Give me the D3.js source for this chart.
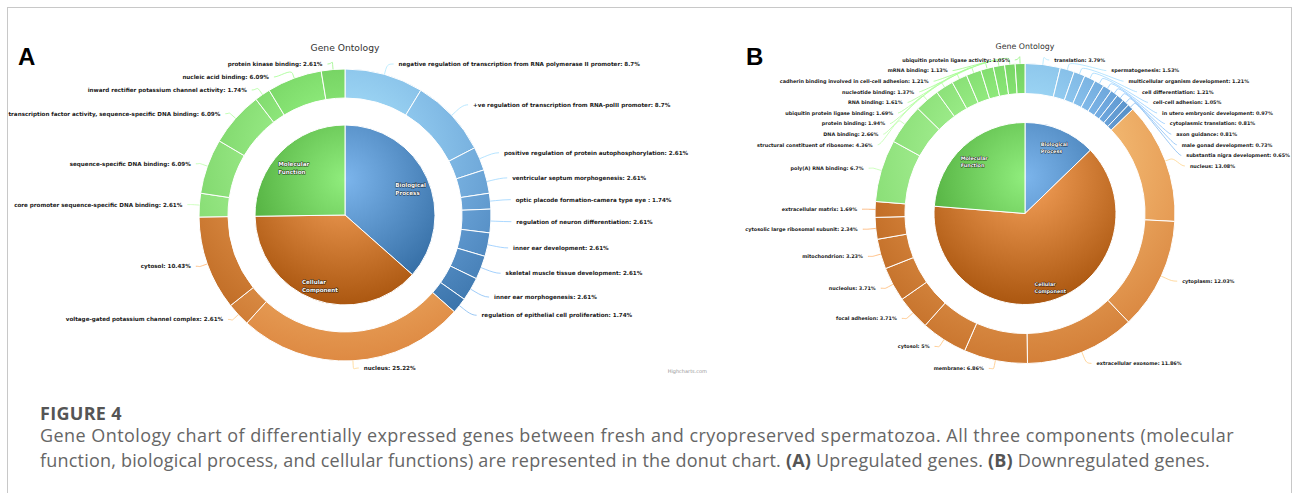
<!DOCTYPE html>
<html>
<head>
<meta charset="utf-8">
<title>Gene Ontology</title>
<script src="https://d3js.org/d3.v7.min.js"></script>
<style>
	html, body { margin: 0; padding: 0; background: #fff; }
	svg { display: block; }
</style>
</head>
<body>
<script>
'use strict';

// ---- data ---------------------------------------------------------------

var categories = ['Biological Process', 'Cellular Component', 'Molecular Function'];

// panel A: upregulated genes
var upProcessTerms = [
	'negative regulation of transcription from RNA polymerase II promoter',
	'+ve regulation of transcription from RNA-polII promoter',
	'positive regulation of protein autophosphorylation',
	'ventricular septum morphogenesis',
	'optic placode formation-camera type eye ',
	'regulation of neuron differentiation',
	'inner ear development',
	'skeletal muscle tissue development',
	'inner ear morphogenesis',
	'regulation of epithelial cell proliferation'
];
var upProcessValues = [8.7, 8.7, 2.61, 2.61, 1.74, 2.61, 2.61, 2.61, 2.61, 1.74];

var upComponentTerms = ['nucleus', 'voltage-gated potassium channel complex', 'cytosol'];
var upComponentValues = [25.22, 2.61, 10.43];

var upFunctionTerms = [
	'core promoter sequence-specific DNA binding',
	'sequence-specific DNA binding',
	'transcription factor activity, sequence-specific DNA binding',
	'inward rectifier potassium channel activity',
	'nucleic acid binding',
	'protein kinase binding'
];
var upFunctionValues = [2.61, 6.09, 6.09, 1.74, 6.09, 2.61];

// panel B: downregulated genes
var downProcessTerms = [
	'translation',
	'spermatogenesis',
	'multicellular organism development',
	'cell differentiation',
	'cell-cell adhesion',
	'in utero embryonic development',
	'cytoplasmic translation',
	'axon guidance',
	'male gonad development',
	'substantia nigra development'
];
var downProcessValues = [3.79, 1.53, 1.21, 1.21, 1.05, 0.97, 0.81, 0.81, 0.73, 0.65];

var downComponentTerms = [
	'nucleus',
	'cytoplasm',
	'extracellular exosome',
	'membrane',
	'cytosol',
	'focal adhesion',
	'nucleolus',
	'mitochondrion',
	'cytosolic large ribosomal subunit',
	'extracellular matrix'
];
var downComponentValues = [13.08, 12.03, 11.86, 6.86, 5, 3.71, 3.71, 3.23, 2.34, 1.69];

var downFunctionTerms = [
	'poly(A) RNA binding',
	'structural constituent of ribosome',
	'DNA binding',
	'protein binding',
	'ubiquitin protein ligase binding',
	'RNA binding',
	'nucleotide binding',
	'cadherin binding involved in cell-cell adhesion',
	'mRNA binding',
	'ubiquitin protein ligase activity'
];
var downFunctionValues = [6.7, 4.36, 2.66, 1.94, 1.69, 1.61, 1.37, 1.21, 1.13, 1.05];

var chartTitle = 'Gene Ontology';
var captionHead = 'FIGURE 4';
var captionLine1 = 'Gene Ontology chart of differentially expressed genes between fresh and cryopreserved spermatozoa. All three components (molecular';
var captionLine2 = [
	['function, biological process, and cellular functions) are represented in the donut chart. ', false],
	['(A)', true], [' Upregulated genes. ', false],
	['(B)', true], [' Downregulated genes.', false]
];

// ---- styles / layout ----------------------------------------------------

var catColors = ['#7cb5ec', '#f7a35c', '#90ed7d'];
var labelFont = '"DejaVu Sans", Verdana, sans-serif';

var width = 1293, height = 493;

var svg = d3.select('body').append('svg')
	.attr('width', width)
	.attr('height', height);
var defs = svg.append('defs');

svg.append('rect')
	.attr('width', width).attr('height', height)
	.attr('fill', '#fff');

// figure frame
svg.append('rect')
	.attr('x', 7.5).attr('y', 7.5)
	.attr('width', 1284).attr('height', 520)
	.attr('fill', 'none')
	.attr('stroke', '#c8c8c8');

function clamp(v) { return Math.max(0, Math.min(255, v)); }

// highcharts-like brighten (adds a fraction of 255 to each channel)
function brighten(hex, amount) {
	var c = d3.rgb(hex);
	var k = Math.trunc(amount * 255);
	return d3.rgb(clamp(c.r + k), clamp(c.g + k), clamp(c.b + k)).formatHex();
}

function addGradient(id, base, b, diameter) {
	var grad = defs.append('radialGradient')
		.attr('id', id)
		.attr('gradientUnits', 'userSpaceOnUse')
		.attr('cx', 0).attr('cy', -0.2 * diameter)
		.attr('fx', 0).attr('fy', -0.2 * diameter)
		.attr('r', 0.7 * diameter);
	grad.append('stop').attr('offset', 0).attr('stop-color', brighten(base, b));
	grad.append('stop').attr('offset', 1).attr('stop-color', brighten(brighten(base, -0.3), b));
	return 'url(#' + id + ')';
}

// push overlapping labels apart, keeping groups centred on their targets
function distribute(items, top, bottom, gap) {
	items.sort(function(a, b) { return a.ny - b.ny; });
	var groups = items.map(function(d) { return { items: [d] }; });
	var place = function(gr) {
		var n = gr.items.length;
		var pos = d3.mean(gr.items, function(d) { return d.ny; }) - (n - 1) * gap / 2;
		gr.pos = Math.max(top, Math.min(pos, bottom - (n - 1) * gap));
	};
	groups.forEach(place);
	var merged = true;
	while (merged) {
		merged = false;
		for (var i = 0; i < groups.length - 1; i++) {
			var a = groups[i], b = groups[i + 1];
			if (a.pos + a.items.length * gap > b.pos + 1e-6) {
				a.items = a.items.concat(b.items);
				groups.splice(i + 1, 1);
				place(a);
				merged = true;
				break;
			}
		}
	}
	groups.forEach(function(gr) {
		gr.items.forEach(function(d, k) { d.y = gr.pos + k * gap; });
	});
}

function fmt(v) { return String(v) + '%'; }

/**
 * Draws one donut panel: category pie inside, sub-term ring outside.
 */
var drawPanel = function(cfg, groups) {
	// panel letter and title
	svg.append('text')
		.attr('x', cfg.letterX).attr('y', 65)
		.attr('font-family', '"Liberation Sans", Arial, sans-serif')
		.attr('font-weight', 'bold')
		.attr('font-size', 24)
		.attr('fill', '#000')
		.text(cfg.letter);

	svg.append('text')
		.attr('x', cfg.cx).attr('y', cfg.titleY)
		.attr('text-anchor', 'middle')
		.attr('font-family', labelFont)
		.attr('font-size', cfg.titleSize)
		.attr('fill', '#333')
		.text(chartTitle);

	var g = svg.append('g')
		.attr('transform', 'translate(' + cfg.cx + ',' + cfg.cy + ')');

	var totals = groups.map(function(d) { return d3.sum(d.values); });
	var inner = d3.pie().sort(null)(totals);

	var subs = [];
	groups.forEach(function(grp, i) {
		grp.values.forEach(function(v, j) {
			subs.push({
				name: grp.terms[j],
				value: v,
				group: i,
				bright: 0.2 - (j / grp.values.length) / 5
			});
		});
	});
	var outer = d3.pie().sort(null).value(function(d) { return d.value; })(subs);

	var pieArc = d3.arc().innerRadius(0).outerRadius(cfg.pieR);
	var ringArc = d3.arc().innerRadius(cfg.ringIn).outerRadius(cfg.ringOut);

	g.selectAll('path.inner')
		.data(inner)
		.enter().append('path')
		.attr('class', 'inner')
		.attr('d', pieArc)
		.attr('fill', function(d, i) {
			return addGradient(cfg.letter + '-in-' + i, catColors[i], 0, 2 * cfg.pieR);
		})
		.attr('stroke', '#fff')
		.attr('stroke-width', 1)
		.attr('stroke-linejoin', 'round');

	g.selectAll('path.outer')
		.data(outer)
		.enter().append('path')
		.attr('class', 'outer')
		.attr('d', ringArc)
		.attr('fill', function(d, i) {
			return addGradient(cfg.letter + '-out-' + i, catColors[d.data.group], d.data.bright, 2 * cfg.ringOut);
		})
		.attr('stroke', '#fff')
		.attr('stroke-width', 1)
		.attr('stroke-linejoin', 'round');

	// outside labels
	var items = outer.map(function(d) {
		var a = (d.startAngle + d.endAngle) / 2;
		var side = a > Math.PI ? 'left' : 'right';
		var R = cfg.labelR[side];
		return { arc: d, a: a, side: side, R: R, ny: -R * Math.cos(a) };
	});
	var top = cfg.top - cfg.cy, bottom = cfg.bottom - cfg.cy;
	['left', 'right'].forEach(function(side) {
		distribute(items.filter(function(d) { return d.side === side; }), top, bottom, cfg.gap);
	});
	items.forEach(function(d) {
		var sgn = d.side === 'right' ? 1 : -1;
		// labels stuck at the top / bottom keep their natural x
		var yy = (Math.abs(d.y - top) < 0.5 || Math.abs(d.y - bottom) < 0.5) ? d.ny : d.y;
		d.x = sgn * Math.sqrt(Math.max(0, d.R * d.R - yy * yy));
		d.sgn = sgn;
	});

	var conn = g.append('g').attr('class', 'connectors');
	items.forEach(function(d) {
		var x3 = cfg.ringOut * Math.sin(d.a), y3 = -cfg.ringOut * Math.cos(d.a);
		var x2 = (cfg.ringOut + 5) * Math.sin(d.a), y2 = -(cfg.ringOut + 5) * Math.cos(d.a);
		var p = d3.path();
		p.moveTo(d.x + d.sgn * 5, d.y);
		p.bezierCurveTo(d.x, d.y, 2 * x2 - x3, 2 * y2 - y3, x2, y2);
		p.lineTo(x3, y3);
		conn.append('path')
			.attr('d', p.toString())
			.attr('fill', 'none')
			.attr('stroke', brighten(catColors[d.arc.data.group], d.arc.data.bright))
			.attr('stroke-width', 0.8);
	});

	g.append('g').attr('class', 'labels')
		.selectAll('text')
		.data(items)
		.enter().append('text')
		.attr('x', function(d) { return d.x + d.sgn * 10; })
		.attr('y', function(d) { return d.y; })
		.attr('dy', '0.35em')
		.attr('text-anchor', function(d) { return d.side === 'right' ? 'start' : 'end'; })
		.attr('font-family', labelFont)
		.attr('font-weight', 'bold')
		.attr('font-size', cfg.fontSize)
		.attr('fill', '#1a1a1a')
		.text(function(d) { return d.arc.data.name + ': ' + fmt(d.arc.data.value); });

	// category labels inside the pie
	inner.forEach(function(d, i) {
		var a = (d.startAngle + d.endAngle) / 2;
		var px = cfg.innerLabelR * Math.sin(a), py = -cfg.innerLabelR * Math.cos(a);
		var lines = categories[i].split(' ');
		var t = g.append('text')
			.attr('font-family', labelFont)
			.attr('font-weight', 'bold')
			.attr('font-size', cfg.fontSize)
			.attr('fill', '#fff')
			.attr('stroke', '#000')
			.attr('stroke-opacity', 0.75)
			.attr('stroke-width', 1)
			.attr('stroke-linejoin', 'round')
			.attr('paint-order', 'stroke');
		var spans = lines.map(function(line, k) {
			return t.append('tspan')
				.attr('y', py + k * cfg.lineH)
				.attr('dy', '0.35em')
				.text(line);
		});
		var w = d3.max(spans, function(s) { return s.node().getComputedTextLength(); });
		spans.forEach(function(s) { s.attr('x', px - w / 2); });
	});

	if (cfg.credits) {
		svg.append('text')
			.attr('x', cfg.credits[0]).attr('y', cfg.credits[1])
			.attr('text-anchor', 'end')
			.attr('font-family', labelFont)
			.attr('font-size', 5)
			.attr('fill', '#999')
			.text('Highcharts.com');
	}
};

drawPanel({
	letter: 'A', letterX: 18,
	cx: 345, cy: 215,
	pieR: 90, ringIn: 117, ringOut: 146,
	labelR: { left: 153, right: 161.5 },
	top: 64, bottom: 368, gap: 13,
	fontSize: 5.6, innerLabelR: 72, lineH: 8,
	titleY: 50.5, titleSize: 9.2,
	credits: [707, 373]
}, [
	{ terms: upProcessTerms, values: upProcessValues },
	{ terms: upComponentTerms, values: upComponentValues },
	{ terms: upFunctionTerms, values: upFunctionValues }
]);

drawPanel({
	letter: 'B', letterX: 746,
	cx: 1025, cy: 213.5,
	pieR: 91, ringIn: 120, ringOut: 150,
	labelR: { left: 158, right: 162 },
	top: 60, bottom: 369, gap: 10.6,
	fontSize: 4.9, innerLabelR: 75, lineH: 7,
	titleY: 49, titleSize: 7.85,
	credits: null
}, [
	{ terms: downProcessTerms, values: downProcessValues },
	{ terms: downComponentTerms, values: downComponentValues },
	{ terms: downFunctionTerms, values: downFunctionValues }
]);

// ---- caption ------------------------------------------------------------

var capFont = '"Open Sans", "Noto Sans", sans-serif';

svg.append('text')
	.attr('x', 40).attr('y', 420)
	.attr('font-family', capFont)
	.attr('font-weight', 'bold')
	.attr('font-size', 18)
	.attr('letter-spacing', 0.3)
	.attr('fill', '#555')
	.text(captionHead);

svg.append('text')
	.attr('x', 40).attr('y', 442)
	.attr('font-family', capFont)
	.attr('font-size', 18)
	.attr('letter-spacing', 0.45)
	.attr('fill', '#666')
	.text(captionLine1);

var line2 = svg.append('text')
	.attr('x', 40).attr('y', 467)
	.attr('font-family', capFont)
	.attr('font-size', 18)
	.attr('letter-spacing', 0.2)
	.attr('fill', '#666');
captionLine2.forEach(function(part) {
	line2.append('tspan')
		.attr('font-weight', part[1] ? 'bold' : null)
		.attr('fill', part[1] ? '#555' : null)
		.text(part[0]);
});
</script>
</body>
</html>
